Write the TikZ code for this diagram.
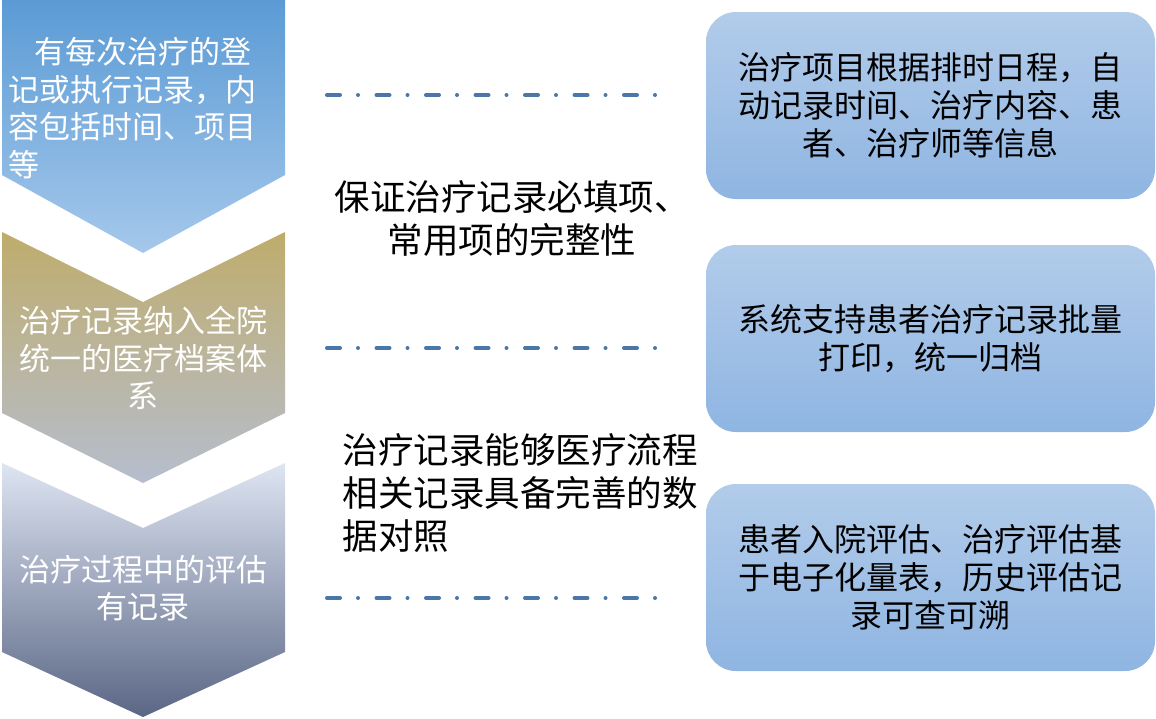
\documentclass[tikz,border=0pt]{standalone}
\usepackage{fontspec}
\setmainfont{Noto Sans CJK SC}
\usetikzlibrary{positioning}
\definecolor{BT}{RGB}{91,155,213}
\definecolor{BB}{RGB}{165,200,235}
\definecolor{GT}{RGB}{191,172,108}
\definecolor{GM}{RGB}{192,180,135}
\definecolor{GB}{RGB}{182,190,206}
\definecolor{ST}{RGB}{222,228,242}
\definecolor{SB}{RGB}{90,103,133}
\definecolor{PT}{RGB}{178,204,234}
\definecolor{PB}{RGB}{143,181,226}
\definecolor{DL}{RGB}{74,118,168}

\begin{document}
\begin{tikzpicture}[x=1pt, y=-1pt,
  steptxt/.style={text=white, inner sep=0pt, font=\fontsize{31}{37.5}\selectfont},
  midtxt/.style={text=black, inner sep=0pt, font=\fontsize{35.5}{43}\selectfont},
  panel/.style={shade, top color=PT, bottom color=PB, rounded corners=30pt,
                minimum width=449pt, minimum height=187pt, inner sep=0pt,
                align=center, font=\fontsize{32}{38}\selectfont},
  dashdot/.style={draw=DL, line width=4pt, line cap=round,
                  dash pattern=on 13pt off 18pt on 0pt off 18.5pt}
]
\useasboundingbox (0,0) rectangle (1156,718);

% Chevrons (left column)
\shade[top color=BT, bottom color=BB]
  (2,0) -- (285,0) -- (285,175) -- (143,253) -- (2,175) -- cycle;
\shade[top color=GT, middle color=GM, bottom color=GB]
  (2,232) -- (143,302) -- (285,232) -- (285,413) -- (143,483) -- (2,413) -- cycle;
\shade[top color=ST, bottom color=SB]
  (2,463) -- (143,528) -- (285,463) -- (285,652) -- (143,717) -- (2,652) -- cycle;

\node[steptxt, align=left] (s1) at (133,108)
  {\hspace*{25pt}有每次治疗的登\\记或执行记录，内\\容包括时间、项目\\等};
\node[steptxt, align=center] (s2) at (143,358)
  {治疗记录纳入全院\\统一的医疗档案体\\系};
\node[steptxt, align=center] (s3) at (143,588)
  {治疗过程中的评估\\有记录};

% Middle column
\node[midtxt, align=center] (m1) at (512,219)
  {保证治疗记录必填项、\\常用项的完整性};
\node[midtxt, align=left] (m2) at (520,493)
  {治疗记录能够医疗流程\\相关记录具备完善的数\\据对照};

\coordinate (d1a) at (327,95);  \coordinate (d1b) at (656,95);
\coordinate (d2a) at (327,348); \coordinate (d2b) at (656,348);
\coordinate (d3a) at (327,598); \coordinate (d3b) at (656,598);
\draw[dashdot] (d1a) -- (d1b);
\draw[dashdot] (d2a) -- (d2b);
\draw[dashdot] (d3a) -- (d3b);

% Right column
\node[panel] (p1) at (930.5,105.5)
  {治疗项目根据排时日程，自\\动记录时间、治疗内容、患\\者、治疗师等信息};
\node[panel] (p2) at (930.5,338.5)
  {系统支持患者治疗记录批量\\打印，统一归档};
\node[panel] (p3) at (930.5,577.5)
  {患者入院评估、治疗评估基\\于电子化量表，历史评估记\\录可查可溯};
\end{tikzpicture}
\end{document}
